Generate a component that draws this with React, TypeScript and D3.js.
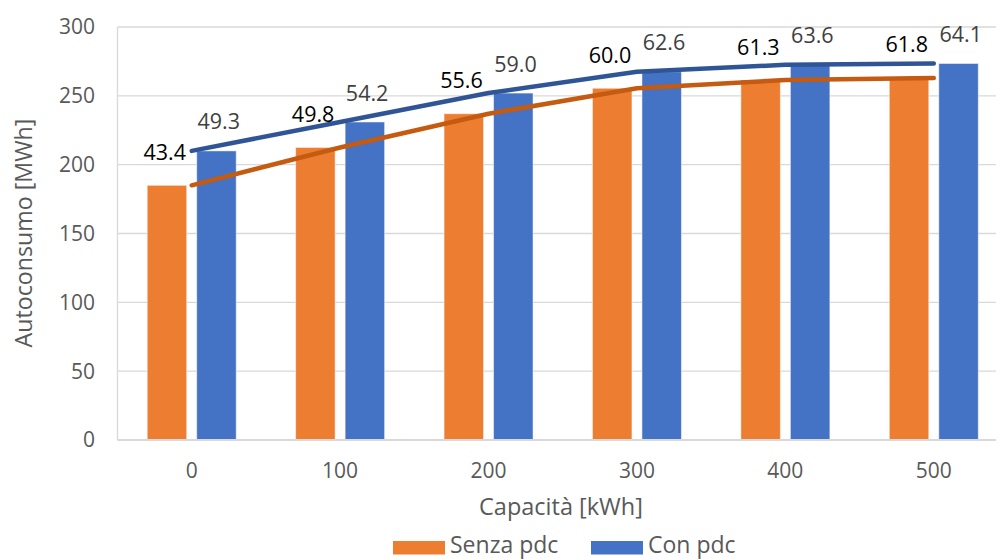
import React from "react";
import * as d3 from "d3";

const categories = ["0", "100", "200", "300", "400", "500"];
const senzaValues = [185, 212.5, 237, 255.5, 261.5, 263];
const conValues = [210, 231, 252, 267.5, 272.5, 273.5];
const senzaLabels = ["43.4", "49.8", "55.6", "60.0", "61.3", "61.8"];
const conLabels = ["49.3", "54.2", "59.0", "62.6", "63.6", "64.1"];
const yTicks = [0, 50, 100, 150, 200, 250, 300];
const seriesNames = ["Senza pdc", "Con pdc"];

const W = 996;
const H = 559;
const FONT = "'Open Sans', 'Noto Sans', sans-serif";

export default function App() {
  const left = 117.5;
  const right = 1008;
  const top = 27;
  const bottom = 440;

  const x = d3.scaleBand<string>().domain(categories).range([left, right]).paddingInner(0).paddingOuter(0);
  const y = d3.scaleLinear().domain([0, 300]).range([bottom, top]);
  const bw = x.bandwidth();
  const barW = 39.5;
  const gap = 10;
  const cx = (c: string) => (x(c) as number) + bw / 2;

  const line = d3
    .line<number>()
    .x((_, i) => cx(categories[i]))
    .y((d) => y(d));

  return (
    <svg
      width={W}
      height={H}
      style={{ position: "absolute", left: 0, top: 0, background: "#fff" }}
      fontFamily={FONT}
    >
      <rect x={0} y={0} width={W} height={H} fill="#fff" />
      {yTicks.map((t) => (
        <g key={t}>
          {t > 0 && (
            <line x1={left} x2={right} y1={y(t)} y2={y(t)} stroke="#D9D9D9" strokeWidth={1.3} />
          )}
          <text x={95} y={y(t)} dy="0.35em" textAnchor="end" fontSize={21} fill="#595959">
            {t}
          </text>
        </g>
      ))}
      <line x1={left} x2={left} y1={top} y2={bottom} stroke="#D9D9D9" strokeWidth={1.3} />
      {categories.map((c, i) => (
        <g key={c}>
          <rect
            x={cx(c) - gap / 2 - barW}
            y={y(senzaValues[i])}
            width={barW}
            height={bottom - y(senzaValues[i])}
            fill="#ED7D31"
            stroke="#fff"
            strokeOpacity={0.5}
            strokeWidth={1}
          />
          <rect
            x={cx(c) + gap / 2}
            y={y(conValues[i])}
            width={barW}
            height={bottom - y(conValues[i])}
            fill="#4472C4"
            stroke="#fff"
            strokeOpacity={0.5}
            strokeWidth={1}
          />
          <text x={cx(c)} y={471} dy="0.35em" textAnchor="middle" fontSize={21} fill="#595959">
            {c}
          </text>
        </g>
      ))}
      <line x1={left} x2={right} y1={bottom} y2={bottom} stroke="#D9D9D9" strokeWidth={2} />
      <path d={line(senzaValues) || ""} fill="none" stroke="#C55A11" strokeWidth={4.5} strokeLinecap="round" strokeLinejoin="round" />
      <path d={line(conValues) || ""} fill="none" stroke="#2F5597" strokeWidth={4.5} strokeLinecap="round" strokeLinejoin="round" />
      {categories.map((c, i) => (
        <g key={"lbl" + c}>
          <text x={cx(c) - 27} y={y(senzaValues[i]) - 33} dy="0.35em" textAnchor="middle" fontSize={21.5} fill="#000">
            {senzaLabels[i]}
          </text>
          <text x={cx(c) + 27} y={y(conValues[i]) - 29} dy="0.35em" textAnchor="middle" fontSize={21.5} fill="#404040">
            {conLabels[i]}
          </text>
        </g>
      ))}
      <text
        transform={`translate(24,233) rotate(-90)`}
        textAnchor="middle"
        dy="0.35em"
        fontSize={23.2}
        fill="#595959"
      >
        Autoconsumo [MWh]
      </text>
      <text x={561} y={506.5} dy="0.35em" textAnchor="middle" fontSize={23.5} fill="#595959">
        Capacità [kWh]
      </text>
      <g>
        <rect x={393} y={541} width={52} height={13.5} fill="#ED7D31" />
        <text x={450} y={545} dy="0.35em" fontSize={23} fill="#595959">
          {seriesNames[0]}
        </text>
        <rect x={591} y={541} width={52} height={13.5} fill="#4472C4" />
        <text x={648} y={545} dy="0.35em" fontSize={23} fill="#595959">
          {seriesNames[1]}
        </text>
      </g>
    </svg>
  );
}
